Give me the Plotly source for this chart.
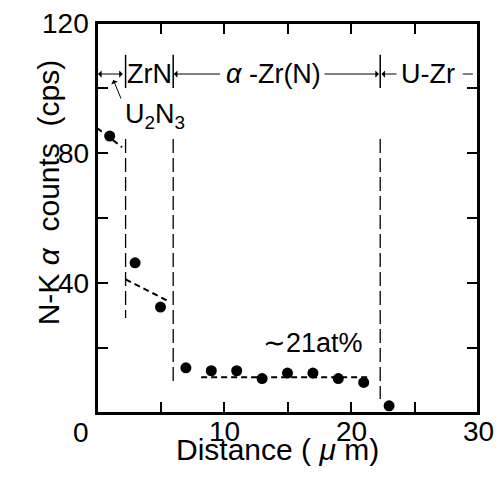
import plotly.graph_objects as go

# Data
dist = [1, 3, 5, 7, 9, 11, 13, 15, 17, 19, 21, 23]
counts = [85.2, 46.2, 32.6, 13.9, 13.0, 13.0, 10.6, 12.3, 12.3, 10.6, 9.4, 2.2]

# fitted dashed segments (x pairs, y pairs)
fit_x = [[0.0, 1.97], [2.25, 5.73], [8.2, 21.4]]
fit_y = [[87.7, 81.8], [41.1, 34.2], [11.0, 11.0]]

# phase boundary dashed verticals
bound_x = [2.25, 6.0, 22.3]
bound_top = [84.3, 84.3, 84.3]
bound_bot = [29.2, 9.5, 4.3]

x_ticks = [0, 5, 10, 15, 20, 25, 30]
x_labels = ["", "", "10", "", "20", "", "30"]   # the corner "0" is shared
y_ticks = [0, 20, 40, 60, 80, 100, 120]
y_labels = ["0", "", "40", "", "80", "", "120"]

FONT = "Liberation Sans, Arial, Helvetica, sans-serif"

fig = go.Figure()

for xs, ys in zip(fit_x, fit_y):
    fig.add_trace(go.Scatter(x=xs, y=ys, mode="lines",
                             line=dict(color="black", width=2, dash="6px,4px"),
                             showlegend=False, hoverinfo="skip"))

for bx, bt, bb in zip(bound_x, bound_top, bound_bot):
    fig.add_trace(go.Scatter(x=[bx, bx], y=[bt, bb], mode="lines",
                             line=dict(color="black", width=1.3, dash="14px,5px"),
                             showlegend=False, hoverinfo="skip"))

fig.add_trace(go.Scatter(x=dist, y=counts, mode="markers",
                         marker=dict(color="black", size=11),
                         showlegend=False))

# invisible trace so the top/right companion axes are drawn
fig.add_trace(go.Scatter(x=[dist[0]], y=[counts[0]], mode="markers", opacity=0,
                         xaxis="x2", yaxis="y2", showlegend=False, hoverinfo="skip"))

# plot frame drawn explicitly
fig.add_shape(type="rect", xref="paper", yref="paper", x0=0, x1=1, y0=0, y1=1,
              line=dict(color="black", width=2), layer="above")

# top phase-region bars
bar_x = [2.25, 6.0, 22.3]
for bx in bar_x:
    fig.add_shape(type="line", x0=bx, x1=bx, y0=100, y1=110.2,
                  line=dict(color="black", width=1.5))

ya = 104.3
arrow_common = dict(xref="x", yref="y", axref="x", ayref="y", text="",
                    showarrow=True, arrowhead=1, arrowsize=1.2, arrowwidth=1,
                    arrowcolor="black")
# U2N3 double arrow
fig.add_annotation(x=0.08, y=ya, ax=2.15, ay=ya, arrowside="end+start", **arrow_common)
# alpha-Zr(N) arrows
fig.add_annotation(x=6.05, y=ya, ax=9.8, ay=ya, **arrow_common)
fig.add_annotation(x=22.2, y=ya, ax=17.8, ay=ya, **arrow_common)
# U-Zr arrow
fig.add_annotation(x=22.4, y=ya, ax=23.7, ay=ya, **arrow_common)
fig.add_shape(type="line", x0=28.8, x1=29.6, y0=ya, y1=ya,
              line=dict(color="black", width=1))
# pointer from U2N3 label
fig.add_annotation(x=1.28, y=102.5, ax=1.94, ay=96.3, **arrow_common)

txt = dict(xref="x", yref="y", showarrow=False, font=dict(family=FONT, size=27, color="black"))
fig.add_annotation(x=4.1, y=ya, text="ZrN", **txt)
fig.add_annotation(x=13.86, y=ya, text="<i>α</i> -Zr(N)", **txt)
fig.add_annotation(x=26.06, y=ya, text="U-Zr", **txt)
fig.add_annotation(x=2.05, y=91.4, text="U<sub>2</sub>N<sub>3</sub>", xanchor="left", **txt)
fig.add_annotation(x=17.0, y=21.5, text="∼21at%", **txt)

# tick labels as annotations (placed from the tick lists)
tickfont = dict(family=FONT, size=28, color="black")
for xv, lab in zip(x_ticks, x_labels):
    if lab:
        fig.add_annotation(xref="x", yref="paper", x=xv, y=0, text=lab, showarrow=False,
                           yanchor="middle", yshift=-18, font=tickfont)
for yv, lab in zip(y_ticks, y_labels):
    if lab:
        shift = -19 if yv == 0 else 0
        fig.add_annotation(xref="paper", yref="y", x=0, y=yv, text=lab, showarrow=False,
                           xanchor="right", xshift=-6, yshift=shift, font=tickfont)

# axis titles
fig.add_annotation(xref="paper", yref="paper", x=0.474, y=-0.141,
                   text="Distance ( <i>μ</i> m)", showarrow=False,
                   font=dict(family=FONT, size=30, color="black"))
fig.add_annotation(xref="paper", yref="paper", x=-0.176, y=0.567,
                   text="N-K <i>α</i>  counts  (cps)", showarrow=False, textangle=-90,
                   font=dict(family=FONT, size=30, color="black"))

axis_style = dict(showticklabels=False, ticks="inside", ticklen=11, tickwidth=1.5,
                  tickcolor="black", showline=True, linewidth=2, linecolor="black",
                  showgrid=False, zeroline=False, automargin=False)

fig.update_layout(
    width=498, height=485,
    margin=dict(l=97, r=20, t=23, b=72),
    plot_bgcolor="white", paper_bgcolor="white",
    font=dict(family=FONT, color="black"),
    xaxis=dict(range=[0, 30], tickvals=x_ticks, side="bottom", **axis_style),
    yaxis=dict(range=[0, 120], tickvals=y_ticks, side="left", **axis_style),
    xaxis2=dict(range=[0, 30], tickvals=x_ticks, side="top", overlaying="x",
                anchor="y2", **axis_style),
    yaxis2=dict(range=[0, 120], tickvals=y_ticks, side="right", overlaying="y",
                anchor="x2", **axis_style),
)

# remove the page's default body margin so the figure sits at the window origin
fig.write_html("out.html", config={"displayModeBar": False},
               post_script="document.body.style.margin='0';document.body.style.overflow='hidden';")
